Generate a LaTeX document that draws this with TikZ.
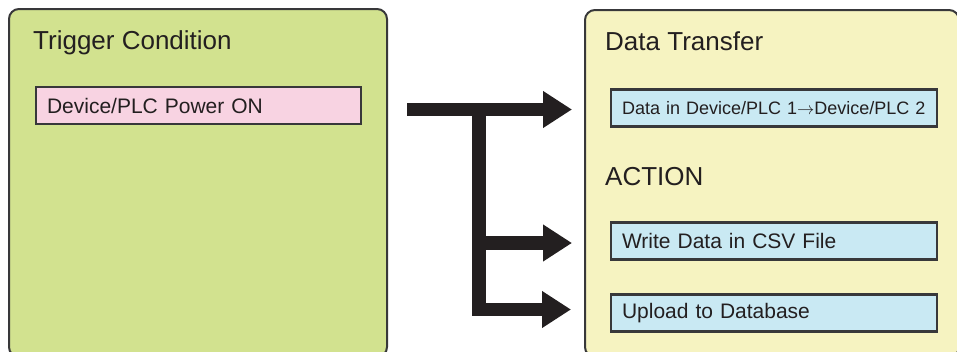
\documentclass[tikz,border=0pt]{standalone}
\usepackage{fontspec}
\setmainfont{Liberation Sans}
\usetikzlibrary{arrows.meta}

\definecolor{edgec}{HTML}{38383A}
\definecolor{arrowc}{HTML}{231F20}
\definecolor{trigfill}{HTML}{D2E28F}
\definecolor{xferfill}{HTML}{F6F3C1}
\definecolor{pinkfill}{HTML}{F8D3E2}
\definecolor{bluefill}{HTML}{C9E9F3}

\tikzset{
	panel/.style={draw=edgec, line width=2pt, rounded corners=10pt, anchor=north west, inner sep=0pt},
	title/.style={anchor=base west, inner sep=0pt, text=arrowc, font=\fontsize{26}{30}\selectfont},
	itembox/.style={draw=edgec, line width=2.2pt, minimum height=37pt, inner xsep=11pt, align=left, text=arrowc, font=\fontsize{21}{24}\selectfont},
	bigarrow/.style={draw=arrowc, line width=13.5pt, line join=miter, -{Triangle[length=29pt,width=35pt]}}
}

\begin{document}
\begin{tikzpicture}[x=1pt,y=-1pt]
	
	\clip (0,0) rectangle (957,351);
	
	% panels
	\node[panel, fill=trigfill, minimum width=378pt, minimum height=348pt] (trig) at (8, 8) {};
	\node[panel, fill=xferfill, minimum width=374pt, minimum height=347pt] (xfer) at (584, 9) {};
	
	\node[title] (trigtitle) at (33, 49) {Trigger Condition};
	\node[title] (xfertitle) at (605, 50) {Data Transfer};
	\node[title] (acttitle) at (605, 185) {ACTION};
	
	% boxes
	\node[itembox, fill=pinkfill, text width=303pt] (power) at (198.5, 105.5) {Device/PLC Power ON};
	\node[itembox, fill=bluefill, text width=304pt, font=\fontsize{18}{21}\selectfont] (plcdata) at (774, 108) {\mbox{Data in Device/PLC 1$\rightarrow$Device/PLC 2}};
	\node[itembox, fill=bluefill, text width=304pt] (csv) at (774, 241) {Write Data in CSV File};
	\node[itembox, fill=bluefill, text width=304pt] (db) at (774, 313) {Upload to Database};
	
	% arrows
	\coordinate (src) at (407, 109.5);
	\coordinate (fork) at (479, 109.5);
	\coordinate (t1) at (572, 109.5);
	\coordinate (t2) at (572, 243);
	\coordinate (t3) at (571, 309.5);
	
	\draw[bigarrow] (src) -- (t1);
	\draw[bigarrow] (fork) |- (t3);
	\draw[bigarrow] (fork |- t2) -- (t2);
	
\end{tikzpicture}
\end{document}
